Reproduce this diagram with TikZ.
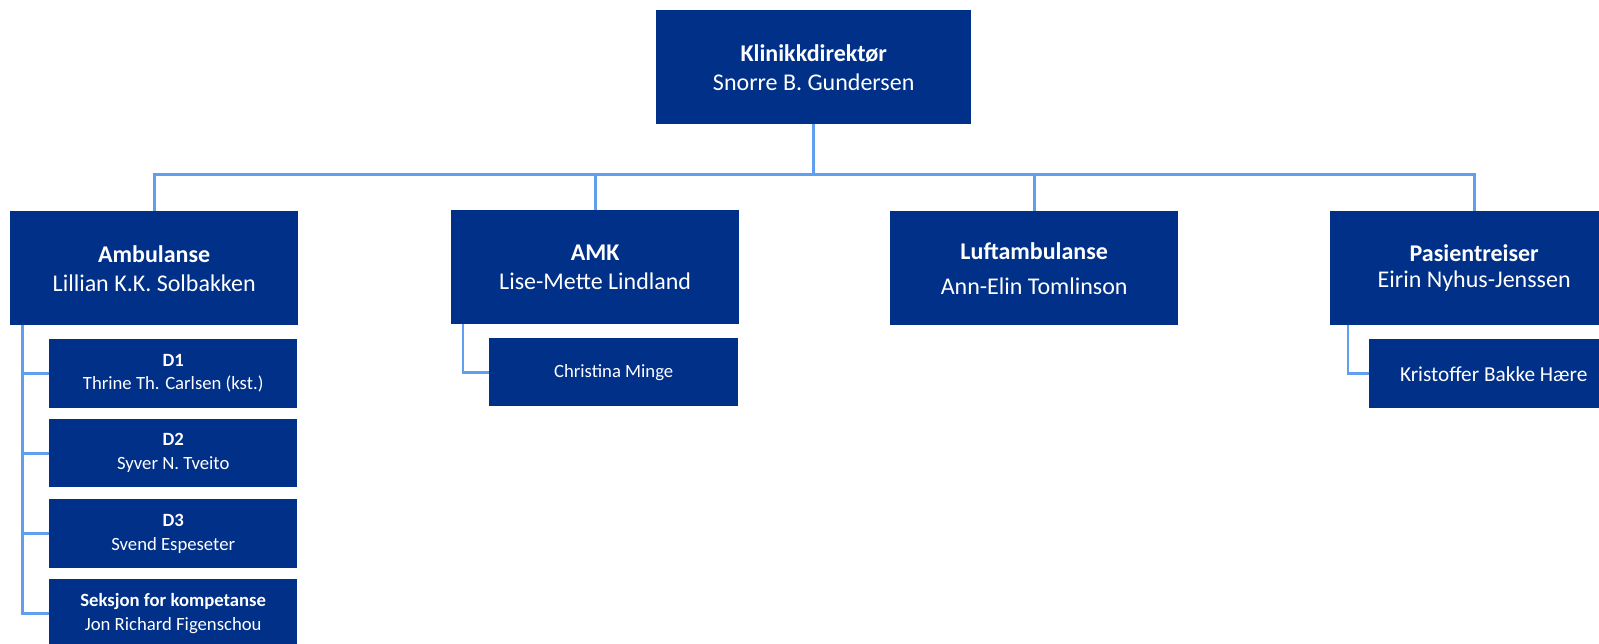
\documentclass[tikz,border=0pt]{standalone}
\usepackage{fontspec}
\setmainfont{Carlito}
\definecolor{boxblue}{RGB}{0,48,135}
\definecolor{linkblue}{RGB}{96,158,238}
\begin{document}
\begin{tikzpicture}[x=1pt,y=-1pt,
  box/.style={fill=boxblue, draw=none, text=white, align=center, inner sep=0pt, anchor=north west},
  bigbox/.style={box, minimum width=288pt, minimum height=114pt, font=\fontsize{24}{29}\selectfont},
  subbox/.style={box, minimum width=248pt, minimum height=69pt, font=\fontsize{18.7}{24}\selectfont},
  link/.style={draw=linkblue, line width=2.8pt},
]
\useasboundingbox (0,0) rectangle (1599,643);
\clip (0,0) rectangle (1599,643);

\node[bigbox, minimum width=315pt] (top) at (656,10) {\textbf{Klinikkdirektør}\\Snorre B. Gundersen};
\node[bigbox] (amb) at (10,211) {\textbf{Ambulanse}\\Lillian K.K. Solbakken};
\node[bigbox] (amk) at (451,210) {\textbf{AMK}\\Lise-Mette Lindland};
\node[bigbox, font=\fontsize{24}{35}\selectfont] (luft) at (890,211) {\textbf{Luftambulanse}\\Ann-Elin Tomlinson};
\node[bigbox, font=\fontsize{24}{26}\selectfont] (pas) at (1330,211) {\textbf{Pasientreiser}\\Eirin Nyhus-Jenssen};

\node[subbox, font=\fontsize{18.7}{23}\selectfont] (d1) at (49,339) {\textbf{D1}\\Thrine Th. Carlsen (kst.)};
\node[subbox, minimum height=68pt] (d2) at (49,419) {\textbf{D2}\\Syver N. Tveito};
\node[subbox] (d3) at (49,499) {\textbf{D3}\\Svend Espeseter};
\node[subbox] (sek) at (49,579) {\textbf{Seksjon for kompetanse}\\Jon Richard Figenschou};
\node[subbox, minimum width=249pt, minimum height=68pt] (chr) at (489,338) {Christina Minge};
\node[subbox, minimum width=249pt, font=\fontsize{21.3}{26}\selectfont] (kri) at (1369,339) {Kristoffer Bakke Hære};

\coordinate (busy) at (0,174.5);
\draw[link] (top.south) -- (top.south |- busy);
\draw[link] (amb.north) |- (pas.north |- busy) -- (pas.north);
\draw[link] (amk.north) -- (amk.north |- busy);
\draw[link] (luft.north) -- (luft.north |- busy);

\coordinate (ambtrunk) at ([xshift=12.5pt]amb.south west);
\draw[link] (ambtrunk) |- (sek.west);
\draw[link] (ambtrunk |- d1.west) -- (d1.west);
\draw[link] (ambtrunk |- d2.west) -- (d2.west);
\draw[link] (ambtrunk |- d3.west) -- (d3.west);

\coordinate (amktrunk) at ([xshift=12pt]amk.south west);
\draw[link] (amktrunk) |- (chr.west);

\coordinate (pastrunk) at ([xshift=18pt]pas.south west);
\draw[link] (pastrunk) |- (kri.west);
\end{tikzpicture}
\end{document}
